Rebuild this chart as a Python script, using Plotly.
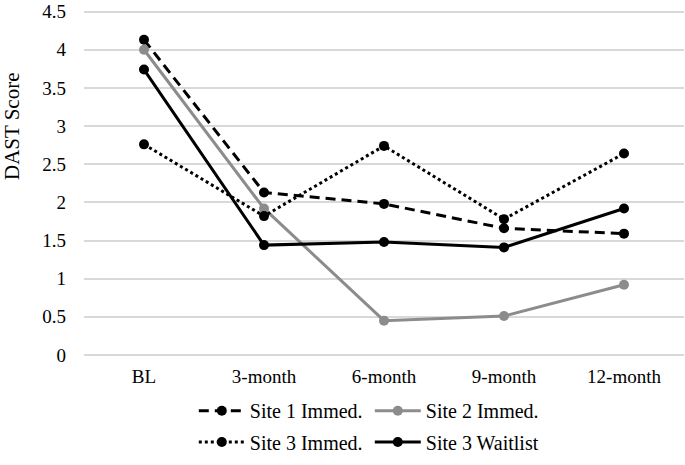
import plotly.graph_objects as go

categories = ["BL", "3-month", "6-month", "9-month", "12-month"]
site1_immed = [4.13, 2.13, 1.98, 1.66, 1.59]
site2_immed = [4.00, 1.92, 0.45, 0.51, 0.92]
site3_immed = [2.76, 1.82, 2.74, 1.78, 2.64]
site3_wait = [3.74, 1.44, 1.48, 1.41, 1.92]
y_ticks = [0, 0.5, 1, 1.5, 2, 2.5, 3, 3.5, 4, 4.5]
y_tick_labels = ["0", "0.5", "1", "1.5", "2", "2.5", "3", "3.5", "4", "4.5"]
y_title = "DAST Score"

FONT = "Liberation Serif"

fig = go.Figure()
fig.add_trace(go.Scatter(x=categories, y=site1_immed, name="Site 1 Immed.", mode="lines+markers",
                         line=dict(color="black", width=3, dash="10px,6px"),
                         marker=dict(color="black", size=10), legend="legend"))
fig.add_trace(go.Scatter(x=categories, y=site2_immed, name="Site 2 Immed.", mode="lines+markers",
                         line=dict(color="#8c8c8c", width=3),
                         marker=dict(color="#8c8c8c", size=10), legend="legend"))
fig.add_trace(go.Scatter(x=categories, y=site3_immed, name="Site 3 Immed.", mode="lines+markers",
                         line=dict(color="black", width=3, dash="dot"),
                         marker=dict(color="black", size=10), legend="legend2"))
fig.add_trace(go.Scatter(x=categories, y=site3_wait, name="Site 3 Waitlist", mode="lines+markers",
                         line=dict(color="black", width=3),
                         marker=dict(color="black", size=10), legend="legend2"))

legend_common = dict(orientation="h", xanchor="left", yanchor="middle", x=0.183,
                     font=dict(family=FONT, size=20, color="black"),
                     entrywidth=115, bgcolor="rgba(0,0,0,0)", itemwidth=46)

fig.add_annotation(text=y_title, xref="paper", yref="paper", x=-0.12, y=0.658,
                   xanchor="center", yanchor="middle", textangle=-90, showarrow=False,
                   font=dict(family=FONT, size=21, color="black"))

fig.update_layout(
    width=685, height=465,
    margin=dict(l=84, r=1, t=5, b=110),
    paper_bgcolor="white", plot_bgcolor="white",
    font=dict(family=FONT, size=19, color="black"),
    showlegend=True,
    legend=dict(**legend_common, y=-0.16),
    legend2=dict(**legend_common, y=-0.25),
    xaxis=dict(showgrid=False, showline=False, ticks="", tickfont=dict(size=19, family=FONT),
               ticklabelstandoff=8, range=[-0.5, 4.5]),
    yaxis=dict(range=[0, 4.56], tickvals=y_ticks, ticktext=y_tick_labels,
               showgrid=True, gridcolor="#d9d9d9", gridwidth=1.5,
               zeroline=True, zerolinecolor="#d9d9d9", zerolinewidth=1.5,
               showline=False, ticks="", ticklabelstandoff=17, ticklabeloverflow="allow",
               tickfont=dict(size=19, family=FONT)),
)

fig.write_html("out.html", config={"displayModeBar": False},
               post_script="document.body.style.margin='0px';")
